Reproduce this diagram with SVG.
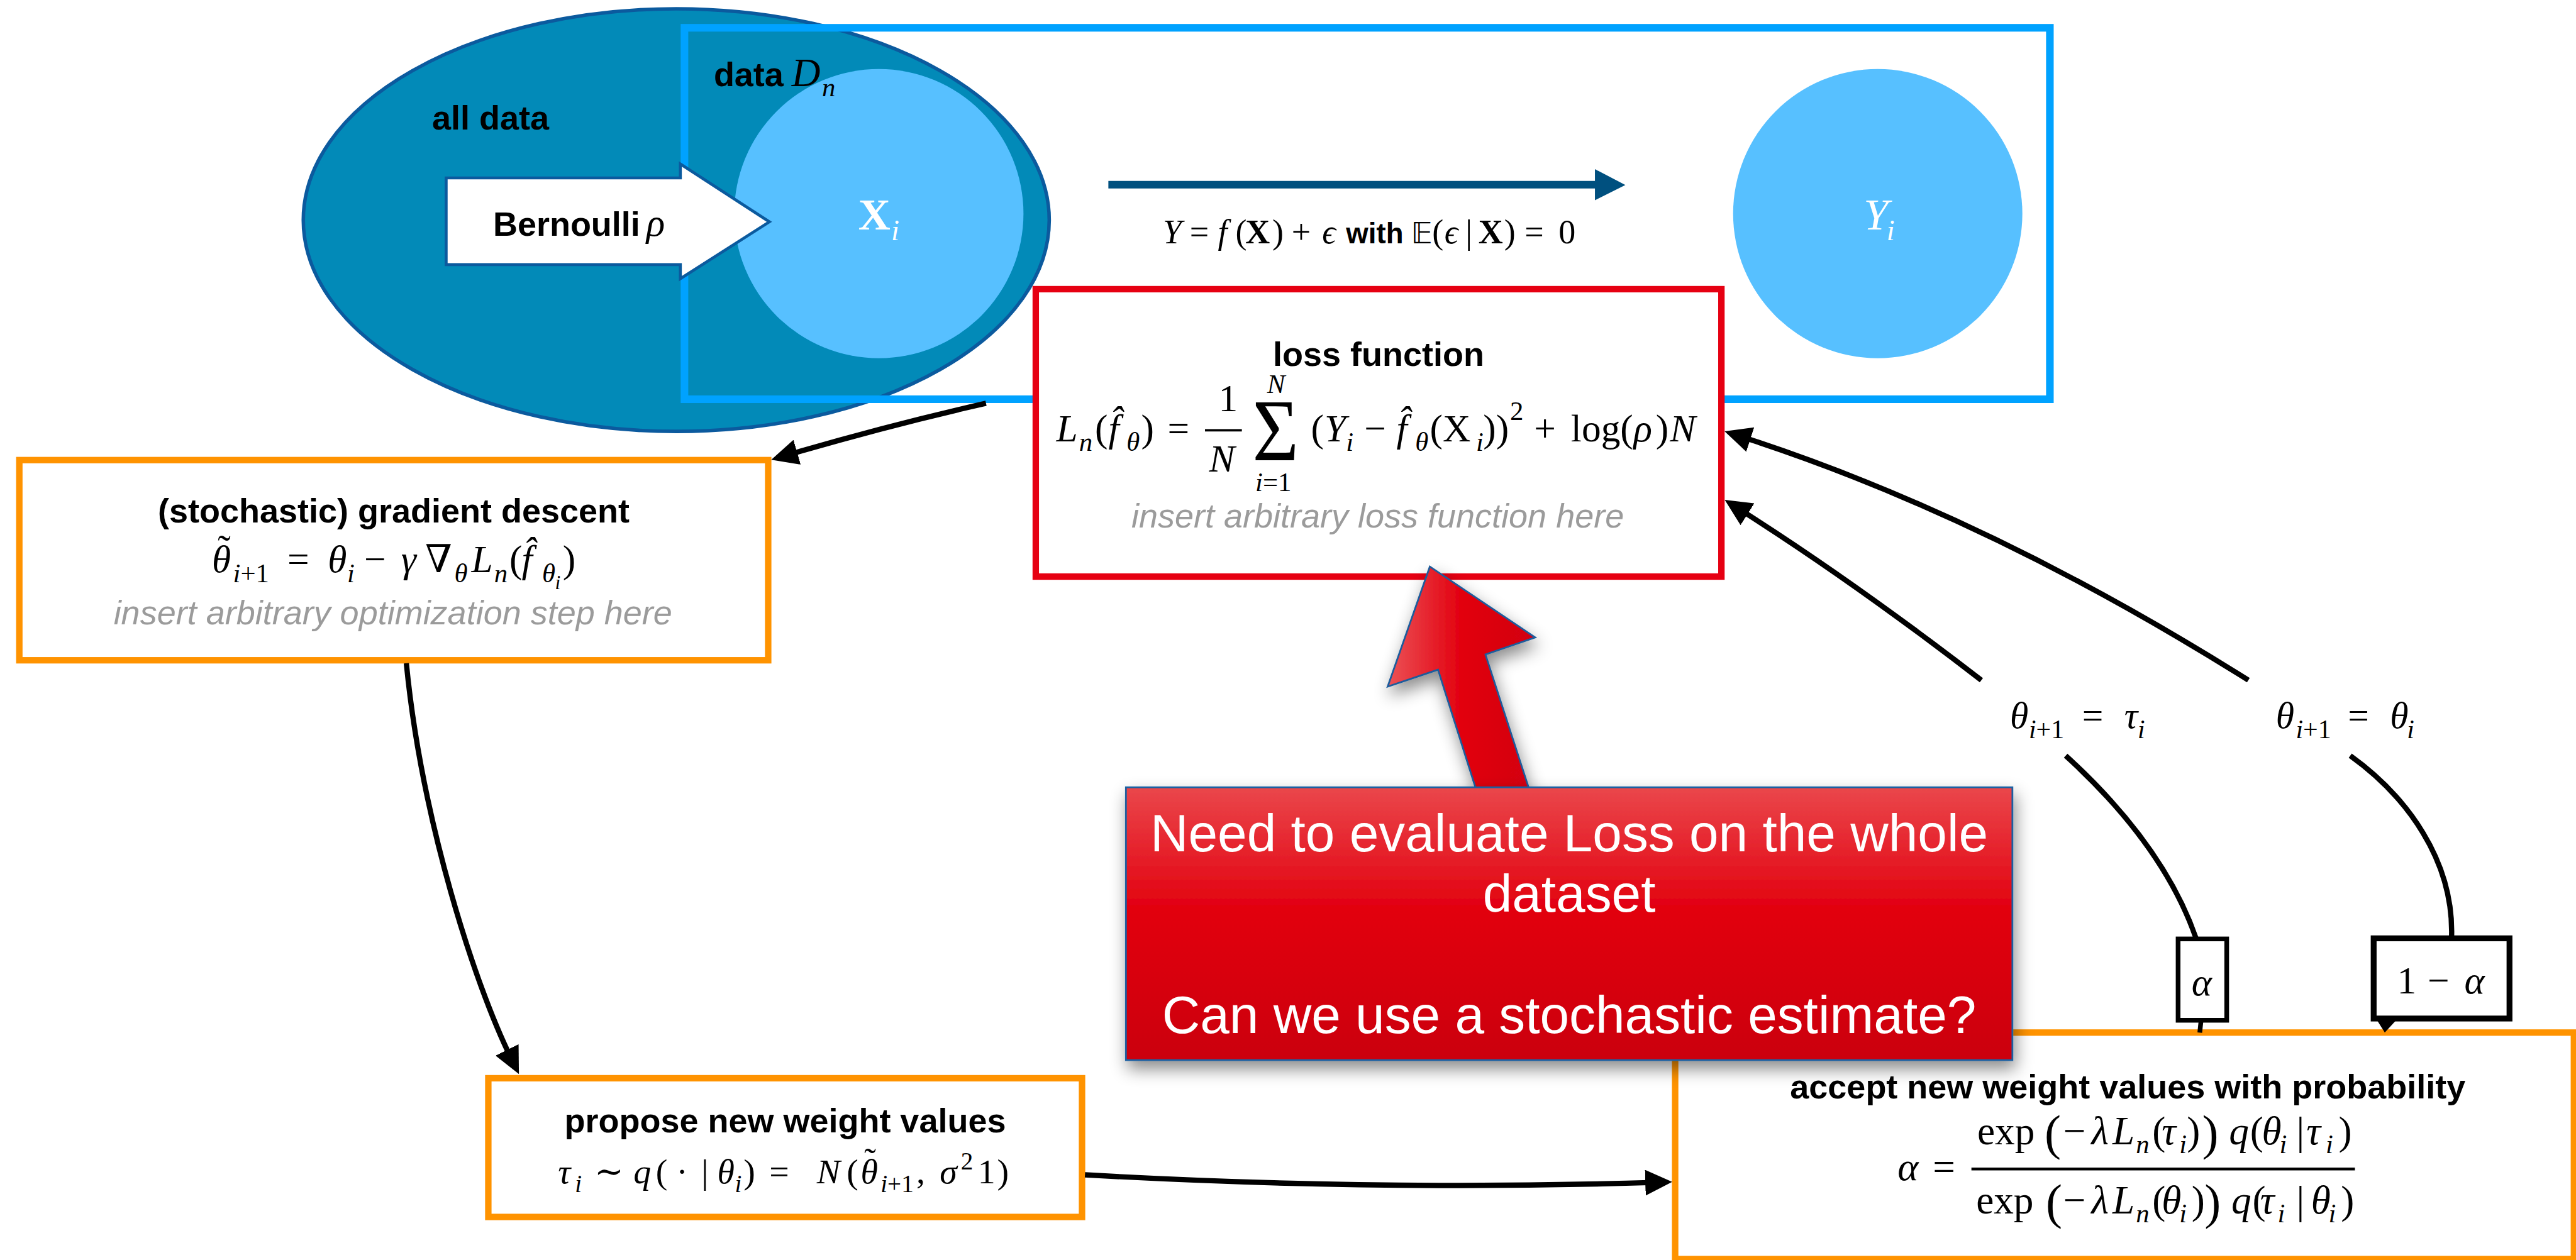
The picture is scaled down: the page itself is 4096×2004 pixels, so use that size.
<svg xmlns="http://www.w3.org/2000/svg" width="4096" height="2004" viewBox="0 0 4096 2004">
<defs>
<style>
.t{font-family:"Liberation Sans",Arial,sans-serif;font-weight:bold;font-size:58px;fill:#000}
.g{font-family:"Liberation Sans",Arial,sans-serif;font-style:italic;font-size:58px;fill:#9b9b9b}
.r{font-family:"Liberation Serif","DejaVu Serif",serif;font-weight:normal;fill:#000}
.i{font-style:italic}
.b{font-weight:bold}
.sub{font-size:46px}
.w{fill:#fff}
.c{font-family:"Liberation Sans",Arial,sans-serif;font-size:90px;fill:#fff}
.ln{fill:none;stroke:#000;stroke-width:9}
.obox{fill:#fff;stroke:#ff9300;stroke-width:11}
</style>
<marker id="ah" viewBox="0 0 46 44" refX="16" refY="22" markerWidth="46" markerHeight="44" orient="auto" markerUnits="userSpaceOnUse">
<path d="M0,0 L46,22 L0,44 z" fill="#000"/>
</marker>
<linearGradient id="cg" x1="0" y1="0" x2="0" y2="1">
<stop offset="0" stop-color="#ea474b"/>
<stop offset="0.45" stop-color="#e2000f"/>
<stop offset="1" stop-color="#cb0011"/>
</linearGradient>
<linearGradient id="ag" x1="0" y1="0" x2="1" y2="0">
<stop offset="0" stop-color="#ec5256"/>
<stop offset="0.5" stop-color="#e2000f"/>
<stop offset="1" stop-color="#d20012"/>
</linearGradient>
<filter id="sh" x="-20%" y="-20%" width="140%" height="150%">
<feDropShadow dx="4" dy="14" stdDeviation="14" flood-color="#000" flood-opacity="0.45"/>
</filter>
</defs>
<rect x="0" y="0" width="4096" height="2004" fill="#fff"/>
<g transform="scale(0.931)">

<g id="all-data">
<ellipse cx="1155" cy="376" rx="637" ry="361" fill="#028ab8" stroke="#0b5a9e" stroke-width="6"/>
<text class="t" x="738" y="221">all data</text>
</g>

<g id="x-i">
<circle cx="1501" cy="365" r="247" fill="#57c0ff"/>
<text class="r w b" x="1466" y="392" font-size="76">X<tspan class="i" x="1522" y="410" font-size="50" font-weight="normal">i</tspan></text>
</g>

<g id="y-i">
<circle cx="3207" cy="365" r="247" fill="#57c0ff"/>
<text class="r w i" x="3183" y="392" font-size="76">Y<tspan x="3222" y="410" font-size="50">i</tspan></text>
</g>

<g id="data-dn">
<rect x="1169" y="47.5" width="2332" height="634.5" fill="none" stroke="#00a2ff" stroke-width="13"/>
<text class="t" x="1219" y="147">data</text>
<text class="r i" font-size="68" x="1352" y="147">D<tspan class="sub" x="1404" y="164">n</tspan></text>
</g>

<g id="bernoulli">
<polygon points="762,304 1162,304 1162,280 1314,379 1162,476 1162,452 762,452" fill="#fff" stroke="#0b5a9e" stroke-width="5"/>
<text class="t" x="842" y="403">Bernoulli</text>
<text class="r i" font-size="66" x="1104" y="403">ρ</text>
</g>

<g id="model-arrow">
<polygon points="1893,309 2724,309 2724,289 2776,316 2724,342 2724,322 1893,322" fill="#00507f"/>
<text class="r" y="416" font-size="58"><tspan class="i" x="1986">Y</tspan><tspan x="2032">=</tspan><tspan class="i" x="2080">f</tspan><tspan x="2110">(</tspan><tspan class="b" x="2127">X</tspan><tspan x="2173">)</tspan><tspan x="2206">+</tspan><tspan class="i" x="2258">ϵ</tspan><tspan x="2299" font-family="Liberation Sans, Arial, sans-serif" font-weight="bold" font-size="49">with</tspan><tspan x="2410" font-family="DejaVu Sans, sans-serif" font-size="50">𝔼</tspan><tspan x="2446">(</tspan><tspan class="i" x="2467">ϵ</tspan><tspan x="2503">|</tspan><tspan class="b" x="2525">X</tspan><tspan x="2569">)</tspan><tspan x="2604">=</tspan><tspan x="2662">0</tspan></text>
</g>

<g id="gd-box">
<rect class="obox" x="33" y="786" width="1279" height="342"/>
<text class="t" x="672.5" y="893" text-anchor="middle">(stochastic) gradient descent</text>
<text class="r" font-size="66" x="372" y="960">˜</text>
<text class="r" font-size="66" y="977">
<tspan class="i" x="362">θ</tspan>
<tspan class="sub" y="995" x="398"><tspan class="i">i</tspan>+1</tspan>
<tspan x="491" y="977">=</tspan>
<tspan class="i" x="560" y="977">θ</tspan><tspan class="i sub" x="593" y="995">i</tspan>
<tspan x="622" y="977">−</tspan>
<tspan class="i" x="685" y="977">γ</tspan>
<tspan x="726" y="977">∇</tspan><tspan class="i sub" x="776" y="995">θ</tspan>
<tspan class="i" x="805" y="977">L</tspan><tspan class="i sub" x="844" y="995">n</tspan>
<tspan x="870" y="977">(</tspan><tspan class="i" x="891" y="977">f̂</tspan>
<tspan class="i sub" x="926" y="995">θ</tspan><tspan class="i" x="948" y="1006" font-size="34">i</tspan>
<tspan x="961" y="977">)</tspan>
</text>
<text class="g" x="671" y="1067" text-anchor="middle">insert arbitrary optimization step here</text>
</g>

<g id="loss-box">
<rect x="1769" y="494" width="1171" height="491" fill="#fff" stroke="#e60012" stroke-width="11"/>
<text class="t" x="2354.5" y="625" text-anchor="middle">loss function</text>
<text class="r" font-size="66">
<tspan class="i" x="1804" y="754">L</tspan><tspan class="i sub" x="1843" y="770">n</tspan>
<tspan x="1870" y="754">(</tspan><tspan class="i" x="1893" y="754">f̂</tspan><tspan class="i sub" x="1924" y="770">θ</tspan><tspan x="1949" y="754">)</tspan>
<tspan x="1994" y="754">=</tspan>
<tspan x="2081" y="702">1</tspan>
<tspan class="i" x="2065" y="806">N</tspan>
<tspan x="2239" y="754">(</tspan><tspan class="i" x="2262" y="754">Y</tspan><tspan class="i sub" x="2299" y="770">i</tspan>
<tspan x="2330" y="754">−</tspan>
<tspan class="i" x="2385" y="754">f̂</tspan><tspan class="i sub" x="2417" y="770">θ</tspan>
<tspan x="2442" y="754">(X</tspan><tspan class="i sub" x="2521" y="770">i</tspan><tspan x="2533" y="754">))</tspan><tspan class="sub" x="2579" y="717">2</tspan>
<tspan x="2620" y="754">+</tspan>
<tspan x="2683" y="754">log(</tspan><tspan class="i" x="2790" y="754">ρ</tspan><tspan x="2828" y="754">)</tspan><tspan class="i" x="2852" y="754">N</tspan>
</text>
<text class="r i" font-size="46" x="2164" y="671">N</text>
<text class="r" font-size="46" x="2144" y="839"><tspan class="i">i</tspan>=1</text>
<text class="r" x="2139" y="786" style="font-size:150px" textLength="79" lengthAdjust="spacingAndGlyphs">Σ</text>
<line x1="2058" y1="735" x2="2121" y2="735" stroke="#000" stroke-width="4"/>
<text class="g" x="2353" y="901" text-anchor="middle">insert arbitrary loss function here</text>
</g>

<g id="propose-box">
<rect class="obox" x="834" y="1842" width="1014" height="237"/>
<text class="t" x="1341" y="1935" text-anchor="middle">propose new weight values</text>
<text class="r" font-size="60" x="1476" y="2002">˜</text>
<text class="r" font-size="60">
<tspan class="i" x="953" y="2022">τ</tspan><tspan class="i" x="982" y="2036" font-size="42">i</tspan>
<tspan x="1015" y="2022">∼</tspan>
<tspan class="i" x="1082" y="2022">q</tspan><tspan x="1120" y="2022">(</tspan><tspan x="1155" y="2022">·</tspan><tspan x="1198" y="2022">|</tspan><tspan class="i" x="1225" y="2022">θ</tspan><tspan class="i" x="1255" y="2036" font-size="42">i</tspan><tspan x="1270" y="2022">)</tspan>
<tspan x="1314" y="2022">=</tspan>
<tspan class="i" x="1395" y="2022">N</tspan><tspan x="1446" y="2022">(</tspan><tspan class="i" x="1470" y="2022">θ</tspan>
<tspan font-size="42" x="1504" y="2036"><tspan class="i">i</tspan>+1</tspan><tspan x="1565" y="2022">,</tspan>
<tspan class="i" x="1605" y="2022">σ</tspan><tspan font-size="42" x="1641" y="1998">2</tspan><tspan x="1670" y="2022">1</tspan><tspan x="1703" y="2022">)</tspan>
</text>
</g>

<g id="accept-box">
<rect class="obox" x="2861" y="1764" width="1535" height="387"/>
<text class="t" x="3634" y="1877" text-anchor="middle">accept new weight values with probability</text>
<text class="r" font-size="68" y="2016"><tspan class="i" x="3241">α</tspan><tspan x="3301">=</tspan></text>
<text class="r" font-size="68" y="1955">
<tspan x="3377">exp</tspan><tspan x="3524">−</tspan><tspan class="i" x="3572">λ</tspan><tspan class="i" x="3608">L</tspan><tspan class="i sub" x="3648" y="1970">n</tspan><tspan x="3676" y="1955">(</tspan><tspan class="i" x="3692">τ</tspan><tspan class="i sub" x="3722" y="1970">i</tspan><tspan x="3735" y="1955">)</tspan>
<tspan class="i" x="3807">q</tspan><tspan x="3843">(</tspan><tspan class="i" x="3863">θ</tspan><tspan class="i sub" x="3893" y="1970">i</tspan><tspan x="3922" y="1955">|</tspan><tspan class="i" x="3939">τ</tspan><tspan class="i sub" x="3972" y="1970">i</tspan><tspan x="3994" y="1955">)</tspan>
</text>
<text class="r" font-size="84" y="1963"><tspan x="3492">(</tspan><tspan x="3761">)</tspan></text>
<text class="r" font-size="68" y="2073">
<tspan x="3375">exp</tspan><tspan x="3524">−</tspan><tspan class="i" x="3572">λ</tspan><tspan class="i" x="3608">L</tspan><tspan class="i sub" x="3648" y="2088">n</tspan><tspan x="3676" y="2073">(</tspan><tspan class="i" x="3692">θ</tspan><tspan class="i sub" x="3722" y="2088">i</tspan><tspan x="3743" y="2073">)</tspan>
<tspan class="i" x="3811">q</tspan><tspan x="3847">(</tspan><tspan class="i" x="3860">τ</tspan><tspan class="i sub" x="3890" y="2088">i</tspan><tspan x="3922" y="2073">|</tspan><tspan class="i" x="3947">θ</tspan><tspan class="i sub" x="3977" y="2088">i</tspan><tspan x="3998" y="2073">)</tspan>
</text>
<text class="r" font-size="84" y="2082"><tspan x="3494">(</tspan><tspan x="3765">)</tspan></text>
<line x1="3367" y1="1997" x2="4022" y2="1997" stroke="#000" stroke-width="5"/>
</g>

<g id="connectors">
<path class="ln" d="M1684,689 Q1520,726 1346,777" marker-end="url(#ah)"/>
<path class="ln" d="M694,1133 C720,1400 810,1680 873,1808" marker-end="url(#ah)"/>
<path class="ln" d="M1853,2007 Q2350,2035 2826,2020" marker-end="url(#ah)"/>
<path class="ln" d="M3840,1162 Q3393,881 2974,746" marker-end="url(#ah)"/>
<path class="ln" d="M3384,1162 Q3165,993 2971,870" marker-end="url(#ah)"/>
<path class="ln" d="M3751,1604 Q3696,1444 3528,1291"/>
<path class="ln" d="M4187,1603 C4192,1470 4110,1360 4014,1291"/>
</g>

<g id="label-tau">
<text class="r" font-size="64"><tspan class="i" x="3433" y="1244">θ</tspan><tspan font-size="45" x="3465" y="1261"><tspan class="i">i</tspan>+1</tspan><tspan x="3556" y="1244">=</tspan><tspan class="i" x="3628" y="1244">τ</tspan><tspan class="i" font-size="45" x="3651" y="1261">i</tspan></text>
</g>

<g id="label-theta">
<text class="r" font-size="64"><tspan class="i" x="3887" y="1244">θ</tspan><tspan font-size="45" x="3921" y="1261"><tspan class="i">i</tspan>+1</tspan><tspan x="4010" y="1244">=</tspan><tspan class="i" x="4082" y="1244">θ</tspan><tspan class="i" font-size="45" x="4111" y="1261">i</tspan></text>
</g>

<g id="alpha-box">
<line x1="3759" y1="1745" x2="3757" y2="1764" stroke="#000" stroke-width="8"/>
<rect x="3720" y="1604" width="83" height="139" fill="#fff" stroke="#000" stroke-width="8"/>
<text class="r i" font-size="66" x="3743" y="1700">α</text>
</g>

<g id="one-minus-alpha-box">
<polygon points="4058,1740 4095,1740 4073,1764" fill="#000"/>
<rect x="4054" y="1603" width="232" height="137" fill="#fff" stroke="#000" stroke-width="10"/>
<text class="r" font-size="66" y="1697"><tspan x="4094">1</tspan><tspan x="4146">−</tspan><tspan class="i" x="4209">α</tspan></text>
</g>

<g id="callout-arrow">
<polygon points="2442,968 2622,1089 2537,1118 2622,1380 2531,1380 2456,1144 2370,1173" fill="url(#ag)" stroke="#1f5b9b" stroke-width="3" filter="url(#sh)"/>
</g>

<g id="callout">
<rect x="1923" y="1345" width="1514" height="466" fill="url(#cg)" stroke="#1a5fa0" stroke-width="3" filter="url(#sh)"/>
<text class="c" x="2680" y="1454" text-anchor="middle">Need to evaluate Loss on the whole</text>
<text class="c" x="2680" y="1557" text-anchor="middle">dataset</text>
<text class="c" x="2680" y="1765" text-anchor="middle">Can we use a stochastic estimate?</text>
</g>

</g>
</svg>
